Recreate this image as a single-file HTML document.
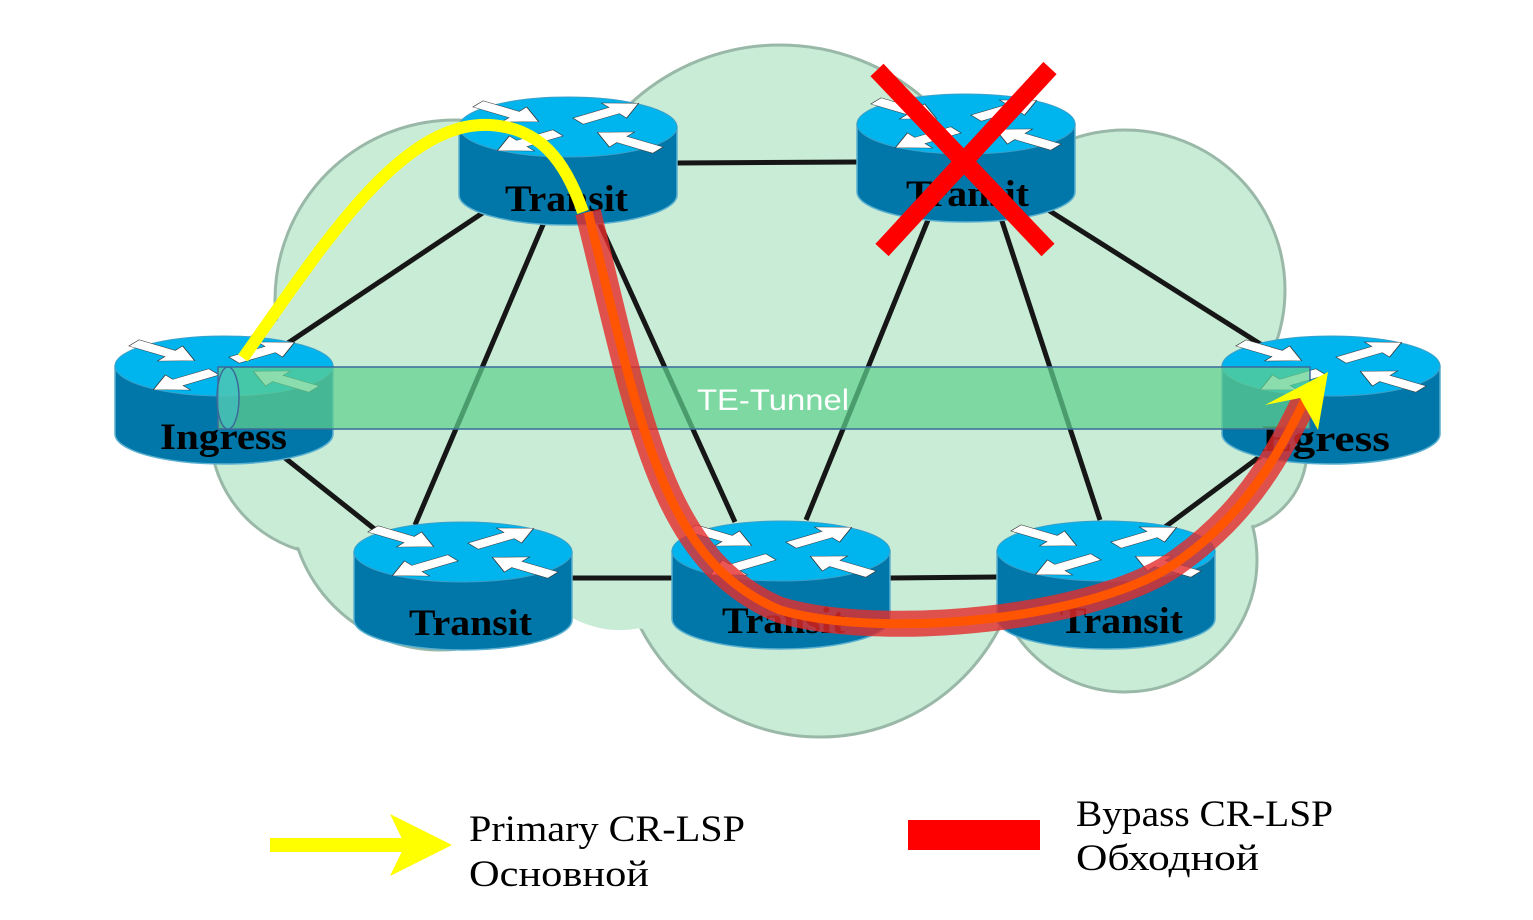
<!DOCTYPE html>
<html><head><meta charset="utf-8"><style>
html,body{margin:0;padding:0;background:#fff}
svg{display:block}
</style></head><body>
<svg width="1533" height="920" viewBox="0 0 1533 920" xmlns="http://www.w3.org/2000/svg">
<defs>
<polygon id="arr" points="0,-9 44,-9 44,-22 74,0 44,22 44,9 0,9" fill="#fff" stroke="#333" stroke-width="1"/>
<g id="arrows" transform="scale(1,0.42)">
  <use href="#arr" transform="translate(-90,-55) rotate(35)"/>
  <use href="#arr" transform="translate(10,-14) rotate(-35)"/>
  <use href="#arr" transform="translate(-10,14) rotate(145)"/>
  <use href="#arr" transform="translate(90,55) rotate(215)"/>
</g>
<g id="router">
  <path d="M-109,0 L-109,68 A109,30 0 0 0 109,68 L109,0 Z" fill="#0077a8" stroke="#5ab0d0" stroke-width="1.5"/>
  <ellipse cx="0" cy="0" rx="109" ry="30" fill="#00b4ee" stroke="#3aa0c8" stroke-width="1"/>
  <use href="#arrows"/>
</g>
</defs>

<!-- cloud outlines -->
<g fill="#c8ecd6" stroke="#9ab8a8" stroke-width="3">
  <circle cx="780" cy="265" r="220"/>
  <circle cx="455" cy="300" r="180"/>
  <circle cx="1125" cy="290" r="160"/>
  <circle cx="335" cy="430" r="125"/>
  <circle cx="1225" cy="450" r="82"/>
  <circle cx="440" cy="500" r="150"/>
  <circle cx="820" cy="535" r="202"/>
  <circle cx="1125" cy="560" r="132"/>
</g>
<g fill="#c8ecd6">
  <circle cx="780" cy="265" r="218"/>
  <circle cx="455" cy="300" r="178"/>
  <circle cx="1125" cy="290" r="158"/>
  <circle cx="335" cy="430" r="123"/>
  <circle cx="1225" cy="450" r="80"/>
  <circle cx="440" cy="500" r="148"/>
  <circle cx="820" cy="535" r="200"/>
  <circle cx="1125" cy="560" r="130"/>
  <ellipse cx="780" cy="400" rx="460" ry="240"/>
  <circle cx="620" cy="530" r="100"/>
</g>

<!-- links -->
<g stroke="#161616" stroke-width="5" fill="none">
  <line x1="285" y1="345" x2="490" y2="208"/>
  <line x1="545" y1="220" x2="415" y2="525"/>
  <line x1="598" y1="220" x2="735" y2="522"/>
  <line x1="677" y1="163" x2="858" y2="162"/>
  <line x1="930" y1="215" x2="806" y2="520"/>
  <line x1="1000" y1="215" x2="1100" y2="520"/>
  <line x1="1045" y1="208" x2="1265" y2="347"/>
  <line x1="285" y1="458" x2="382" y2="535"/>
  <line x1="572" y1="578" x2="673" y2="578"/>
  <line x1="890" y1="578" x2="997" y2="577"/>
  <line x1="1165" y1="527" x2="1262" y2="455"/>
</g>

<!-- routers -->
<use href="#router" transform="translate(568,127)"/>
<use href="#router" transform="translate(966,124)"/>
<use href="#router" transform="translate(224,366)"/>
<use href="#router" transform="translate(1331,366)"/>
<use href="#router" transform="translate(463,552)"/>
<use href="#router" transform="translate(781,551)"/>
<use href="#router" transform="translate(1106,551)"/>

<g font-family="Liberation Serif, serif" font-weight="bold" font-size="37" fill="#000">
  <text x="505" y="211" textLength="123" lengthAdjust="spacingAndGlyphs">Transit</text>
  <text x="906" y="206" textLength="123" lengthAdjust="spacingAndGlyphs">Transit</text>
  <text x="160" y="449" textLength="127" lengthAdjust="spacingAndGlyphs">Ingress</text>
  <text x="1262" y="451" textLength="128" lengthAdjust="spacingAndGlyphs">Egress</text>
  <text x="409" y="635" textLength="123" lengthAdjust="spacingAndGlyphs">Transit</text>
  <text x="722" y="633" textLength="123" lengthAdjust="spacingAndGlyphs">Transit</text>
  <text x="1060" y="633" textLength="123" lengthAdjust="spacingAndGlyphs">Transit</text>
</g>

<!-- tunnel -->
<rect x="218" y="367" width="1092" height="62" fill="#5fd08d" fill-opacity="0.72" stroke="#3b6a9a" stroke-width="1.5"/>
<ellipse cx="228" cy="398" rx="11" ry="31" fill="#40c0d0" fill-opacity="0.5" stroke="#3b6a9a" stroke-width="1.5"/>
<text x="697" y="410" font-family="Liberation Sans, sans-serif" font-size="30" fill="#fff" textLength="152" lengthAdjust="spacingAndGlyphs">TE-Tunnel</text>

<!-- bypass -->
<path d="M588,212 C640,420 660,560 780,610 C880,640 1100,620 1180,560 C1250,510 1280,450 1305,400" fill="none" stroke="#e52a2a" stroke-opacity="0.8" stroke-width="26"/>
<path d="M588,212 C640,420 660,560 780,610 C880,640 1100,620 1180,560 C1250,510 1280,450 1305,400" fill="none" stroke="#ff5500" stroke-width="9"/>

<!-- primary -->
<path d="M243,358 C320,250 400,120 490,125 C540,128 565,160 583,212" fill="none" stroke="#ffff00" stroke-width="12"/>
<polygon points="1328,372 1318,430 1300,398 1265,405" fill="#ffff00"/>

<!-- X -->
<g stroke="#ff0000" stroke-width="18">
  <line x1="877" y1="70" x2="1048" y2="250"/>
  <line x1="1050" y1="68" x2="882" y2="250"/>
</g>

<!-- legend -->
<line x1="270" y1="845" x2="405" y2="845" stroke="#ffff00" stroke-width="14"/>
<polygon points="390,814 452,845 390,876 405,845" fill="#ffff00"/>
<g font-family="Liberation Serif, serif" font-size="37" fill="#000">
  <text x="469" y="841" textLength="276" lengthAdjust="spacingAndGlyphs">Primary CR-LSP</text>
  <text x="469" y="886" textLength="180" lengthAdjust="spacingAndGlyphs">Основной</text>
  <text x="1076" y="826" textLength="257" lengthAdjust="spacingAndGlyphs">Bypass CR-LSP</text>
  <text x="1076" y="870" textLength="183" lengthAdjust="spacingAndGlyphs">Обходной</text>
</g>
<rect x="908" y="820" width="132" height="30" fill="#ff0000"/>
</svg>
</body></html>
